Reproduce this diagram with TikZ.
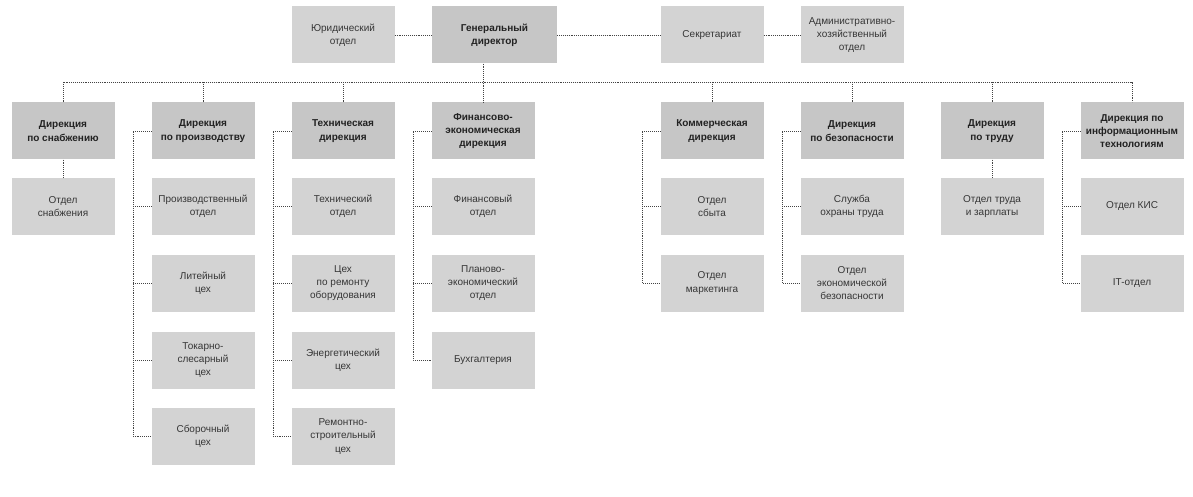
\documentclass[tikz,border=0pt]{standalone}
\usepackage{fontspec}
\setmainfont{Liberation Sans}
\usepackage{tikz}
\usetikzlibrary{positioning,calc}
\definecolor{dirfill}{HTML}{C6C6C6}
\definecolor{deptfill}{HTML}{D3D3D3}
\definecolor{linkgray}{HTML}{444444}
\definecolor{textmain}{HTML}{222222}
\definecolor{textlight}{HTML}{363636}

\begin{document}
\begin{tikzpicture}[
  x=1pt, y=-1pt,
  box/.style={minimum width=103pt, minimum height=57pt, inner sep=2pt, align=center,
    font=\fontsize{10}{13.3}\selectfont},
  dirbox/.style={box, fill=dirfill, text=textmain, font=\fontsize{10}{13.3}\selectfont\bfseries},
  deptbox/.style={box, fill=deptfill, text=textlight},
  link/.style={draw=linkgray, line width=0.75pt, dash pattern=on 0.8pt off 1.1pt},
]
\useasboundingbox (0,0) rectangle (1193,497);

% Top row
\node[deptbox] (legal) at (343, 35) {Юридический\\отдел};
\node[dirbox, minimum width=125pt] (ceo) at (494.5, 35) {Генеральный\\директор};
\node[deptbox] (secr) at (712, 35) {Секретариат};
\node[deptbox] (admin) at (852, 35) {Административно-\\хозяйственный\\отдел};

% Directions
\node[dirbox] (snab) at (63, 131) {Дирекция\\по снабжению};
\node[dirbox] (prod) at (203, 131) {Дирекция\\по производству};
\node[dirbox] (tech) at (343, 131) {Техническая\\дирекция};
\node[dirbox] (fin) at (483, 131) {Финансово-\\экономическая\\дирекция};
\node[dirbox] (comm) at (712, 131) {Коммерческая\\дирекция};
\node[dirbox] (sec) at (852, 131) {Дирекция\\по безопасности};
\node[dirbox] (labour) at (992, 131) {Дирекция\\по труду};
\node[dirbox] (it) at (1132, 131) {Дирекция по\\информационным\\технологиям};

% Departments
\node[deptbox] (snabA) at (63, 206.5) {Отдел\\снабжения};
\node[deptbox] (prodA) at (203, 206.5) {Производственный\\отдел};
\node[deptbox] (prodB) at (203, 283) {Литейный\\цех};
\node[deptbox] (prodC) at (203, 360) {Токарно-\\слесарный\\цех};
\node[deptbox] (prodD) at (203, 436.5) {Сборочный\\цех};
\node[deptbox] (techA) at (343, 206.5) {Технический\\отдел};
\node[deptbox] (techB) at (343, 283) {Цех\\по ремонту\\оборудования};
\node[deptbox] (techC) at (343, 360) {Энергетический\\цех};
\node[deptbox] (techD) at (343, 436.5) {Ремонтно-\\строительный\\цех};
\node[deptbox] (finA) at (483, 206.5) {Финансовый\\отдел};
\node[deptbox] (finB) at (483, 283) {Планово-\\экономический\\отдел};
\node[deptbox] (finC) at (483, 360) {Бухгалтерия};
\node[deptbox] (commA) at (712, 206.5) {Отдел\\сбыта};
\node[deptbox] (commB) at (712, 283) {Отдел\\маркетинга};
\node[deptbox] (secA) at (852, 206.5) {Служба\\охраны труда};
\node[deptbox] (secB) at (852, 283) {Отдел\\экономической\\безопасности};
\node[deptbox] (labourA) at (992, 206.5) {Отдел труда\\и зарплаты};
\node[deptbox] (itA) at (1132, 206.5) {Отдел КИС};
\node[deptbox] (itB) at (1132, 283) {IT-отдел};

% Top links
\draw[link] (legal) -- (ceo);
\draw[link] (ceo) -- (secr);
\draw[link] (secr) -- (admin);

% Bus to the directions
\coordinate (bus) at (0, 82);
\draw[link] (fin.north |- ceo.south) -- (fin.north);
\draw[link] (snab.north) -- (snab.north |- bus) -- (it.north |- bus) -- (it.north);
\foreach \d in {prod, tech, comm, sec, labour}
  \draw[link] (\d.north) -- (\d.north |- bus);

% Single children
\draw[link] (snab) -- (snabA);
\draw[link] (labour) -- (labourA);

% Brackets on the left of each direction
\draw[link] (prod.west) -- ++(-18,0) |- (prodD.west);
\draw[link] (tech.west) -- ++(-18,0) |- (techD.west);
\draw[link] (fin.west) -- ++(-18,0) |- (finC.west);
\draw[link] (comm.west) -- ++(-18,0) |- (commB.west);
\draw[link] (sec.west) -- ++(-18,0) |- (secB.west);
\draw[link] (it.west) -- ++(-18,0) |- (itB.west);
\foreach \n in {prodA, prodB, prodC, techA, techB, techC, finA, finB, commA, secA, itA}
  \draw[link] (\n.west) -- ++(-18,0);

\end{tikzpicture}
\end{document}
